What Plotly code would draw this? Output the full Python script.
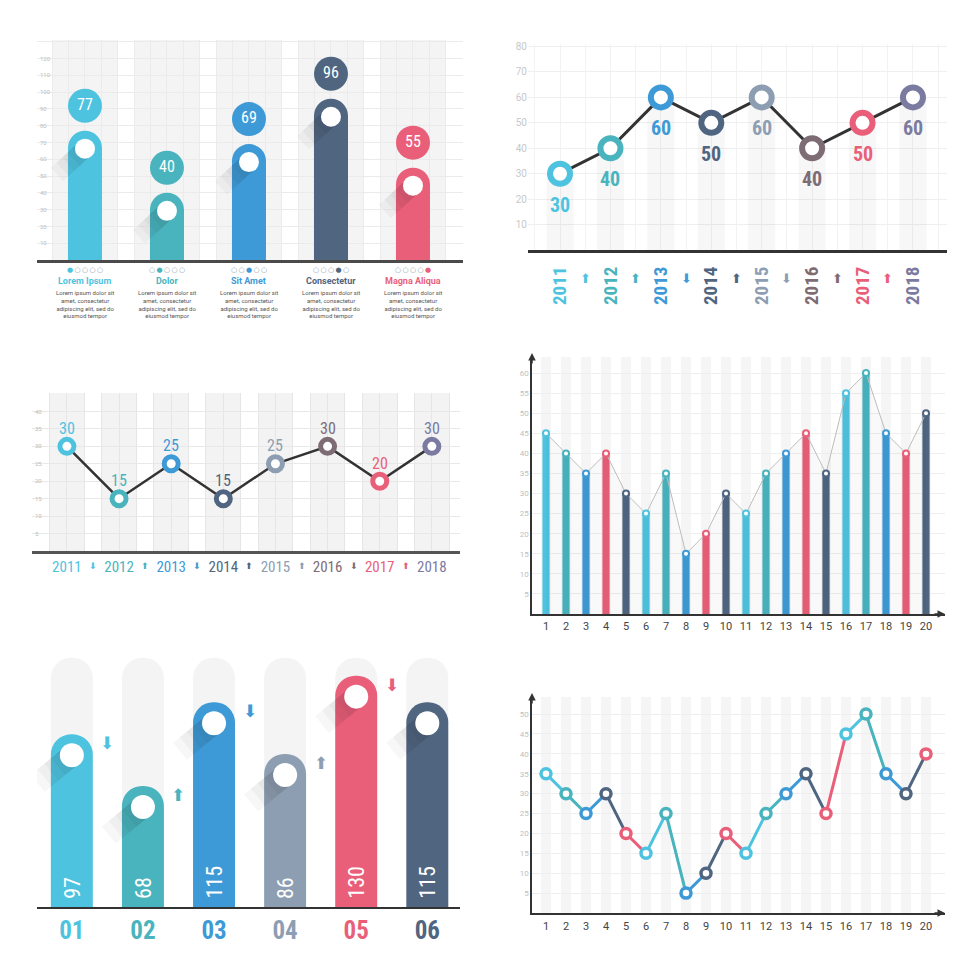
import plotly.graph_objects as go

W, H = 980, 980
OFF = 8  # the page body keeps a default 8px margin

CYAN = "#4EC3E0"
TEAL = "#49B4BE"
BLUE = "#3E9AD6"
SLATE = "#4F6580"
PINK = "#E95F79"
GREYBLUE = "#8D9EB2"
MAUVE = "#7E6C74"
PURPLE = "#7B7AA1"
NARROW = "Roboto Condensed, Liberation Sans Narrow, Roboto, sans-serif"
SANS = "Roboto, Open Sans, sans-serif"
SYMBOL = "DejaVu Sans"

# ---- data ----
p1_names = ["Lorem Ipsum", "Dolor", "Sit Amet", "Consectetur", "Magna Aliqua"]
p1_values = [77, 40, 69, 96, 55]
p1_colors = [CYAN, TEAL, BLUE, SLATE, PINK]
p1_text = "Lorem ipsum dolor sit<br>amet, consectetur<br>adipiscing elit, sed do<br>eiusmod tempor"

years = ["2011", "2012", "2013", "2014", "2015", "2016", "2017", "2018"]
year_colors = [CYAN, TEAL, BLUE, SLATE, GREYBLUE, MAUVE, PINK, PURPLE]
p2_values = [30, 40, 60, 50, 60, 40, 50, 60]
p3_values = [30, 15, 25, 15, 25, 30, 20, 30]

p4_x = list(range(1, 21))
p4_values = [45, 40, 35, 40, 30, 25, 35, 15, 20, 30, 25, 35, 40, 45, 35, 55, 60, 45, 40, 50]
p4_cycle = [CYAN, TEAL, BLUE, PINK, SLATE]

p5_labels = ["01", "02", "03", "04", "05", "06"]
p5_values = [97, 68, 115, 86, 130, 115]
p5_colors = [CYAN, TEAL, BLUE, GREYBLUE, PINK, SLATE]
p5_track = 140

p6_x = list(range(1, 21))
p6_values = [35, 30, 25, 30, 20, 15, 25, 5, 10, 20, 15, 25, 30, 35, 25, 45, 50, 35, 30, 40]
p6_cycle = [CYAN, TEAL, BLUE, SLATE, PINK]

# pixel boxes of the panels (7 is an overlay of 5 so both bar sets get rounded tops)
PANELS = {
    1: dict(px=(37, 463), py=(40, 260), xr=[-0.585, 4.61], yr=[0, 131]),
    2: dict(px=(528, 947), py=(44, 250), xr=[-0.635, 7.675], yr=[0, 81]),
    3: dict(px=(32, 460), py=(393, 551), xr=[-0.67, 7.54], yr=[0, 45.3]),
    4: dict(px=(532, 945), py=(357, 614), xr=[0.3, 20.95], yr=[0, 64]),
    5: dict(px=(37, 460), py=(650, 907), xr=[-0.49, 5.46], yr=[0, 144.4]),
    6: dict(px=(532, 945), py=(697, 913), xr=[0.3, 20.95], yr=[0, 54.3]),
}
PANELS[7] = PANELS[5]

fig = go.Figure()
shapes = []
annotations = []


def ax(n, kind):
    return kind + ("" if n == 1 else str(n))


def scale(n):
    p = PANELS[n]
    kx = (p["px"][1] - p["px"][0]) / (p["xr"][1] - p["xr"][0])
    ky = (p["py"][1] - p["py"][0]) / (p["yr"][1] - p["yr"][0])
    return kx, ky


def add(n, trace):
    trace.update(xaxis=ax(n, "x"), yaxis=ax(n, "y"), hoverinfo="skip", showlegend=False)
    fig.add_trace(trace)


def note(**kw):
    kw.setdefault("showarrow", False)
    kw.setdefault("yanchor", "middle")
    kw.setdefault("xanchor", "center")
    annotations.append(kw)


def bands(n, xs, width, color):
    for x in xs:
        shapes.append(dict(type="rect", xref=ax(n, "x"), yref=ax(n, "y") + " domain",
                           x0=x - width / 2, x1=x + width / 2, y0=0, y1=1,
                           fillcolor=color, line=dict(width=0), layer="below"))


def shadows(n, xs, ys, dx, dy, width, steps=5, alpha=0.035):
    # long diagonal shadow behind the white knobs
    kx, ky = scale(n)
    for s in range(1, steps + 1):
        f = s / steps
        lx, ly = [], []
        for x, y in zip(xs, ys):
            lx += [x, x + dx * f / kx, None]
            ly += [y, y - dy * f / ky, None]
        add(n, go.Scatter(x=lx, y=ly, mode="lines",
                          line=dict(color=f"rgba(30,30,30,{alpha})", width=width)))


def arrows(n, xs, values, colors, yshift, size, on_domain=True):
    for i in range(len(values) - 1):
        up = values[i + 1] > values[i]
        note(x=xs[i] + 0.5, xref=ax(n, "x"),
             y=0 if on_domain else values[i],
             yref=ax(n, "y") + (" domain" if on_domain else ""),
             yshift=yshift, text="⬆" if up else "⬇",
             font=dict(family=SYMBOL, size=size, color=colors[i]))


# ---- panel 1: rounded bars with value bubbles ----
idx1 = list(range(len(p1_names)))
_, ky1 = scale(1)
bands(1, idx1, 0.8, "#F4F4F4")
add(1, go.Bar(x=idx1, y=p1_values, width=0.415,
              marker=dict(color=p1_colors, cornerradius="50%", line=dict(width=0))))
knob1 = [v - 18 / ky1 for v in p1_values]
shadows(1, idx1, knob1, -28, 26, 18)
add(1, go.Scatter(x=idx1, y=knob1, mode="markers",
                  marker=dict(size=20, color="white", line=dict(width=0))))
add(1, go.Scatter(x=idx1, y=[v + 25 / ky1 for v in p1_values], mode="markers+text",
                  marker=dict(size=34, color=p1_colors, line=dict(width=0)),
                  text=[str(v) for v in p1_values], textposition="middle center",
                  textfont=dict(family=NARROW, size=16, color="white")))
for i, name in enumerate(p1_names):
    dots = "\u2009".join(
        f"<span style='color:{p1_colors[i]}'>●</span>" if j == i
        else "<span style='color:#8C9AA6'>○</span>" for j in idx1)
    note(x=i, xref="x", y=0, yref="y domain", yshift=-10, text=dots,
         font=dict(family=SYMBOL, size=7))
    note(x=i, xref="x", y=0, yref="y domain", yshift=-21, text=f"<b>{name}</b>",
         font=dict(family=SANS, size=9, color=p1_colors[i]))
    note(x=i, xref="x", y=0, yref="y domain", yshift=-27, yanchor="top", text=p1_text,
         font=dict(family=SANS, size=6, color="#555555"))

# ---- panel 2: line with ring markers, vertical year labels ----
idx2 = list(range(len(years)))
add(2, go.Bar(x=idx2, y=p2_values, width=0.54, marker=dict(color="rgba(0,0,0,0.03)", line=dict(width=0))))
add(2, go.Scatter(x=idx2, y=p2_values, mode="lines+markers",
                  line=dict(color="#333333", width=3),
                  marker=dict(size=20, color="white", line=dict(color=year_colors, width=6))))
for i, v in enumerate(p2_values):
    note(x=i, xref="x2", y=v, yref="y2", yshift=-31, text=f"<b>{v}</b>",
         font=dict(family=NARROW, size=20, color=year_colors[i]))
arrows(2, idx2, p2_values, year_colors, -28, 13)

# ---- panel 3: small line chart on striped grid ----
idx3 = list(range(len(years)))
bands(3, idx3, 2 / 3, "#F3F3F3")
add(3, go.Scatter(x=idx3, y=p3_values, mode="lines+markers",
                  line=dict(color="#333333", width=2.5),
                  marker=dict(size=14, color="white", line=dict(color=year_colors, width=5))))
for i, v in enumerate(p3_values):
    note(x=i, xref="x3", y=v, yref="y3", yshift=18, text=str(v),
         font=dict(family=NARROW, size=16, color=year_colors[i]))
arrows(3, idx3, p3_values, year_colors, -15, 9)

# ---- panel 4: thin bars with a connecting line ----
p4_colors = [p4_cycle[i % len(p4_cycle)] for i in range(len(p4_x))]
bands(4, p4_x, 0.5, "#F5F5F5")
add(4, go.Scatter(x=p4_x, y=p4_values, mode="lines", line=dict(color="#BDBDBD", width=1),
                  fill="tozeroy", fillcolor="rgba(0,0,0,0.025)"))
add(4, go.Bar(x=p4_x, y=p4_values, width=0.36, marker=dict(color=p4_colors, line=dict(width=0))))
add(4, go.Scatter(x=p4_x, y=p4_values, mode="markers",
                  marker=dict(size=6, color="white", line=dict(color=p4_colors, width=2))))

# ---- panel 5: rounded columns on grey tracks ----
idx5 = list(range(len(p5_labels)))
_, ky5 = scale(5)
add(5, go.Bar(x=idx5, y=[p5_track] * len(idx5), width=0.59,
              marker=dict(color="#F4F4F4", cornerradius="50%", line=dict(width=0))))
add(7, go.Bar(x=idx5, y=p5_values, width=0.59,
              marker=dict(color=p5_colors, cornerradius="50%", line=dict(width=0))))
knob5 = [v - 21 / ky5 for v in p5_values]
shadows(7, idx5, knob5, -34, 28, 22)
add(7, go.Scatter(x=idx5, y=knob5, mode="markers",
                  marker=dict(size=24, color="white", line=dict(width=0))))
for i, v in enumerate(p5_values):
    note(x=i, xref="x5", y=0, yref="y5", yanchor="bottom", yshift=6,
         textangle=-90, text=str(v),
         font=dict(family=NARROW, size=22, color="white"))
arrows(5, idx5, p5_values, p5_colors, -9, 17, on_domain=False)

# ---- panel 6: multicoloured line ----
p6_colors = [p6_cycle[i % len(p6_cycle)] for i in range(len(p6_x))]
segs = {}
for i in range(len(p6_x) - 1):
    sx, sy = segs.setdefault(p6_colors[i], ([], []))
    sx += [p6_x[i], p6_x[i + 1], None]
    sy += [p6_values[i], p6_values[i + 1], None]
bands(6, p6_x, 0.5, "#F5F5F5")
for c, (sx, sy) in segs.items():
    add(6, go.Scatter(x=sx, y=sy, mode="lines", line=dict(color=c, width=3)))
add(6, go.Scatter(x=p6_x, y=p6_values, mode="markers",
                  marker=dict(size=10, color="white", line=dict(color=p6_colors, width=3.5))))

# axis arrowheads for panels 4 and 6
for n in (4, 6):
    annotations.append(dict(x=0, xref=ax(n, "x") + " domain", y=1, yref=ax(n, "y") + " domain",
                            ax=0, ay=12, yshift=4, showarrow=True, arrowhead=2, arrowsize=1,
                            arrowwidth=1.5, arrowcolor="#333333", text=""))
    annotations.append(dict(x=1, xref=ax(n, "x") + " domain", y=0, yref=ax(n, "y") + " domain",
                            ax=-12, ay=0, showarrow=True, arrowhead=2, arrowsize=1,
                            arrowwidth=1.5, arrowcolor="#333333", text=""))


# ---- axes ----
def span_labels(labels, colors, bold):
    if bold:
        return [f"<span style='color:{c}'><b>{t}</b></span>" for t, c in zip(labels, colors)]
    return [f"<span style='color:{c}'>{t}</span>" for t, c in zip(labels, colors)]


axis_cfg = {
    1: (dict(showline=True, linecolor="#4A4A4A", linewidth=2.5, showgrid=True, gridcolor="#EBEBEB",
             tick0=-0.4, dtick=0.2, showticklabels=False),
        dict(showgrid=True, gridcolor="#EBEBEB", tickvals=list(range(10, 140, 10)),
             ticklabelposition="inside", tickfont=dict(size=6, color="#BDBDBD", family=SANS))),
    2: (dict(showline=True, linecolor="#333333", linewidth=3, showgrid=False,
             tickvals=idx2, ticktext=span_labels(years, year_colors, True), tickangle=-90,
             tickfont=dict(family=NARROW, size=19), ticklabelstandoff=6,
             minor=dict(showgrid=True, gridcolor="#F2F2F2", dtick=0.5, tick0=0)),
        dict(showgrid=True, gridcolor="#EFEFEF", tickvals=list(range(10, 90, 10)),
             tickfont=dict(size=10, color="#C8C8C8", family=SANS))),
    3: (dict(showline=True, linecolor="#555555", linewidth=2.5, showgrid=True, gridcolor="#E6E6E6",
             tickvals=idx3, ticktext=span_labels(years, year_colors, False),
             tickfont=dict(family=NARROW, size=15), ticklabelstandoff=0,
             minor=dict(showgrid=True, gridcolor="#E6E6E6", dtick=1 / 3, tick0=0)),
        dict(showgrid=True, gridcolor="#E8E8E8", tickvals=list(range(5, 45, 5)),
             ticklabelposition="inside", tickfont=dict(size=6, color="#BDBDBD", family=SANS))),
    4: (dict(showline=True, linecolor="#333333", linewidth=1.5, showgrid=False,
             tickvals=p4_x, tickfont=dict(size=11, color="#444444", family=SANS), ticklabelstandoff=1),
        dict(showline=True, linecolor="#333333", linewidth=1.5, showgrid=True, gridcolor="#EEEEEE",
             tickvals=list(range(5, 65, 5)), tickfont=dict(size=8, color="#C0C0C0", family=SANS))),
    5: (dict(showline=True, linecolor="#333333", linewidth=1.5, showgrid=False,
             tickvals=idx5, ticktext=span_labels(p5_labels, p5_colors, True),
             tickfont=dict(family=NARROW, size=25), ticklabelstandoff=0),
        dict(showgrid=False, showticklabels=False)),
    6: (dict(showline=True, linecolor="#333333", linewidth=1.5, showgrid=False,
             tickvals=p6_x, tickfont=dict(size=11, color="#444444", family=SANS), ticklabelstandoff=2),
        dict(showline=True, linecolor="#333333", linewidth=1.5, showgrid=True, gridcolor="#EEEEEE",
             tickvals=list(range(5, 55, 5)), tickfont=dict(size=8, color="#C0C0C0", family=SANS))),
    7: (dict(visible=False, overlaying="x5", showgrid=False),
        dict(visible=False, overlaying="y5", showgrid=False)),
}

layout_axes = {}
for n, p in PANELS.items():
    xcfg, ycfg = axis_cfg[n]
    layout_axes[ax(n, "xaxis")] = dict(
        domain=[(p["px"][0] - OFF) / W, (p["px"][1] - OFF) / W], range=p["xr"], anchor=ax(n, "y"),
        zeroline=False, ticks="", fixedrange=True, **xcfg)
    layout_axes[ax(n, "yaxis")] = dict(
        domain=[1 - (p["py"][1] - OFF) / H, 1 - (p["py"][0] - OFF) / H], range=p["yr"],
        anchor=ax(n, "x"), zeroline=False, ticks="", fixedrange=True, **ycfg)

fig.update_layout(
    template="none",
    width=W, height=H,
    margin=dict(l=0, r=0, t=0, b=0),
    paper_bgcolor="white",
    plot_bgcolor="rgba(0,0,0,0)",
    barmode="overlay",
    showlegend=False,
    hovermode=False,
    shapes=shapes,
    annotations=annotations,
    **layout_axes,
)

fig.write_html("out.html")
